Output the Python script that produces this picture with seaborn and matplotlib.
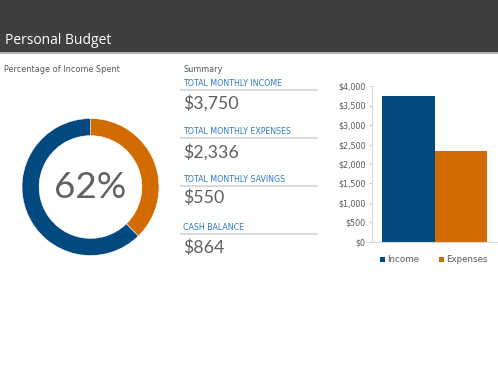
import matplotlib
matplotlib.use("Agg")
import matplotlib.pyplot as plt
from matplotlib.patches import Rectangle
from matplotlib.lines import Line2D
import seaborn as sns
import pandas as pd

# ---- data ----
title = "Personal Budget"
donut_title = "Percentage of Income Spent"
donut_labels = ["Remaining", "Spent"]
donut_values = [1414, 2336]
spent_pct_label = "62%"
summary_title = "Summary"
summary_labels = ["TOTAL MONTHLY INCOME", "TOTAL MONTHLY EXPENSES",
                  "TOTAL MONTHLY SAVINGS", "CASH BALANCE"]
summary_values = ["$3,750", "$2,336", "$550", "$864"]
bar_series = ["Income", "Expenses"]
bar_values = [3750, 2336]
y_ticks = [0, 500, 1000, 1500, 2000, 2500, 3000, 3500, 4000]
y_tick_labels = ["$0", "$500", "$1,000", "$1,500", "$2,000", "$2,500",
                 "$3,000", "$3,500", "$4,000"]

BLUE = "#02497F"
ORANGE = "#D26B02"
GRAY_TXT = "#595959"
NUM_GRAY = "#606060"
LABEL_BLUE = "#2F7BC4"
NUM_FONT = ["Lato", "DejaVu Sans"]

sns.set_theme(style="white")
plt.rcParams['font.family'] = ['DejaVu Sans']

W, H = 498, 382
fig = plt.figure(figsize=(W / 100, H / 100), dpi=100)
fig.patch.set_facecolor("white")

def fx(x):
    return x / W

def fy(y):
    return 1 - y / H

# header bar
fig.patches.append(Rectangle((0, fy(52)), 1, 52 / H, transform=fig.transFigure,
                             facecolor="#3F3F3E", edgecolor="none", zorder=0))
fig.add_artist(Line2D([0, 1], [fy(52.5), fy(52.5)], transform=fig.transFigure,
                      color="#A6A6A6", lw=1.2))
fig.text(fx(5), fy(44), title, color="white", fontsize=10,
         family=["Open Sans", "DejaVu Sans"], va="baseline", ha="left")

# donut
fig.text(fx(4), fy(69.5), donut_title, color=GRAY_TXT, fontsize=5.9,
         va="center", ha="left")
axd = fig.add_axes([fx(22), fy(255.5), 137 / W, 137 / H])
axd.pie(donut_values, colors=[ORANGE, BLUE], startangle=90, counterclock=False,
        radius=1, wedgeprops=dict(width=0.25, edgecolor="white", linewidth=0.4))
axd.set_xlim(-1, 1)
axd.set_ylim(-1, 1)
axd.set_aspect("equal")
axd.axis("off")
axd.text(0, 0, spent_pct_label, ha="center", va="center", fontsize=26.5,
         color=NUM_GRAY, family=NUM_FONT, fontweight="normal")

# summary
fig.text(fx(183), fy(69.5), summary_title, color=GRAY_TXT, fontsize=5.9,
         va="center", ha="left")
label_y = [84, 132, 179, 228]
line_y = [90, 138, 186, 234]
value_y = [103, 152, 198, 248]
for lab, val, ly, ln, vy in zip(summary_labels, summary_values, label_y, line_y, value_y):
    fig.text(fx(183), fy(ly), lab, color=LABEL_BLUE, fontsize=5.7,
             va="center", ha="left")
    fig.add_artist(Line2D([fx(181), fx(317)], [fy(ln), fy(ln)],
                          transform=fig.transFigure, color="#D9D9D9", lw=1.5))
    fig.text(fx(183.5), fy(vy), val, color=NUM_GRAY, fontsize=12.8,
             family=NUM_FONT, fontweight="normal",
             va="center", ha="left")

# bar chart
df = pd.DataFrame({"cat": [""] * len(bar_series), "series": bar_series,
                   "value": bar_values})
axb = fig.add_axes([fx(372), fy(242), (497 - 372) / W, (242 - 86) / H])
sns.barplot(data=df, x="cat", y="value", hue="series", hue_order=bar_series,
            palette=[BLUE, ORANGE], ax=axb, width=0.8, saturation=1,
            edgecolor="none", legend=False)
axb.set_xlim(-0.4717, 0.4717)
axb.set_ylim(0, 4000)
axb.set_yticks(y_ticks)
axb.set_yticklabels(y_tick_labels)
axb.set_xticks([])
axb.set_xlabel("")
axb.set_ylabel("")
axb.tick_params(axis="y", labelsize=5.8, colors=GRAY_TXT, length=2.5,
                width=0.6, pad=2, left=True, color="#BFBFBF")
for s in ["top", "right"]:
    axb.spines[s].set_visible(False)
for s in ["left", "bottom"]:
    axb.spines[s].set_color("#D9D9D9")
    axb.spines[s].set_linewidth(0.8)
axb.grid(False)

handles = [Rectangle((0, 0), 1, 1, facecolor=c, edgecolor="none") for c in [BLUE, ORANGE]]
leg = axb.legend(handles, bar_series, loc="center", ncol=2, frameon=False,
                 bbox_to_anchor=(fx(434), fy(260)), bbox_transform=fig.transFigure,
                 fontsize=6.3, handlelength=0.55, handleheight=0.55,
                 handletextpad=0.3, columnspacing=2.2)
for t in leg.get_texts():
    t.set_color(GRAY_TXT)

fig.savefig("out.png", dpi=100, facecolor="white")
